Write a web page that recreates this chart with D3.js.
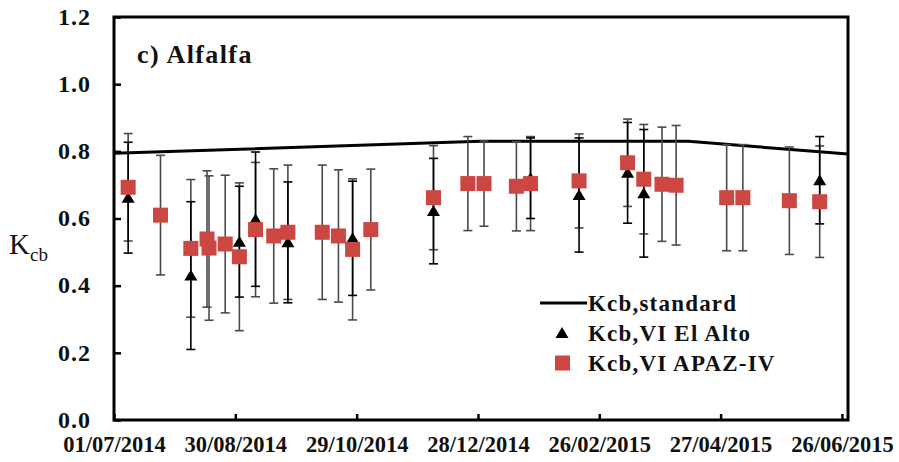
<!DOCTYPE html>
<html>
  <head>
    <meta charset="utf-8">
    <script src="https://d3js.org/d3.v7.min.js"></script>
    <title>Kcb Alfalfa</title>
    <style>
      html, body {
        margin: 0px;
        overflow: hidden;
        background-color: WHITE;
      }
      svg {
        display: block;
        background-color: WHITE;
      }
      .tick text, .legend-label, .title {
        font-family: 'Liberation Serif', 'Times New Roman', serif;
        font-weight: bold;
        fill: #111111;
      }
      .axis-label {
        font-family: 'Liberation Serif', 'Times New Roman', serif;
        fill: #111111;
      }
    </style>
  </head>
  <body>
    <div id="graph"></div>
    <script>

      // Kcb,standard line (date, value)
      const stdDates = ['01/07/2014', '29/12/2014', '11/04/2015', '29/06/2015'];
      const stdValues = [0.794, 0.83, 0.83, 0.792];

      // Kcb,VI El Alto (triangles)
      const altoDates = ['08/07/2014', '08/08/2014', '01/09/2014', '09/09/2014', '25/09/2014', '27/10/2014',
        '06/12/2014', '23/01/2015', '16/02/2015', '12/03/2015', '20/03/2015', '15/06/2015'];
      const altoValues = [0.662, 0.430, 0.531, 0.598, 0.529, 0.541, 0.622, 0.720, 0.670, 0.736, 0.675, 0.714];
      const altoSd = [0.165, 0.22, 0.165, 0.2, 0.18, 0.17, 0.157, 0.12, 0.17, 0.15, 0.19, 0.13];

      // Kcb,VI APAZ-IV (squares)
      const apazDates = ['08/07/2014', '24/07/2014', '08/08/2014', '16/08/2014', '17/08/2014', '25/08/2014',
        '01/09/2014', '09/09/2014', '18/09/2014', '25/09/2014', '12/10/2014', '20/10/2014', '27/10/2014',
        '05/11/2014', '06/12/2014', '23/12/2014', '31/12/2014', '16/01/2015', '23/01/2015', '16/02/2015',
        '12/03/2015', '20/03/2015', '29/03/2015', '05/04/2015', '30/04/2015', '08/05/2015', '31/05/2015',
        '15/06/2015'];
      const apazValues = [0.693, 0.610, 0.511, 0.539, 0.512, 0.524, 0.486, 0.567, 0.548, 0.559, 0.559, 0.548,
        0.508, 0.567, 0.662, 0.704, 0.704, 0.696, 0.704, 0.712, 0.766, 0.717, 0.702, 0.699, 0.662, 0.662,
        0.653, 0.650];
      const apazSd = [0.16, 0.178, 0.205, 0.203, 0.215, 0.205, 0.22, 0.2, 0.2, 0.2, 0.2, 0.197, 0.21, 0.18,
        0.155, 0.14, 0.127, 0.133, 0.14, 0.14, 0.13, 0.163, 0.17, 0.178, 0.158, 0.158, 0.16, 0.166];

      const xTickLabels = ['01/07/2014', '30/08/2014', '29/10/2014', '28/12/2014', '26/02/2015', '27/04/2015', '26/06/2015'];
      const yTicks = [0, 0.2, 0.4, 0.6, 0.8, 1.0, 1.2];
      const xStart = '01/07/2014';
      const xEnd = '29/06/2015';

      const seriesNames = ['Kcb,standard', 'Kcb,VI El Alto', 'Kcb,VI APAZ-IV'];
      const titleText = 'c) Alfalfa';

      const parseDate = d3.timeParse('%d/%m/%Y');
      const squareColor = '#cc4741';

      const margin = { left: 114, right: 51, top: 17, bottom: 42 };
      const width = 899;
      const height = 462;
      const innerWidth = width - margin.left - margin.right;
      const innerHeight = height - margin.top - margin.bottom;

      const svg = d3.select('#graph').append('svg')
        .attr('width', width)
        .attr('height', height);

      const g = svg.append('g')
        .attr('transform', `translate(${margin.left},${margin.top})`);

      const xScale = d3.scaleTime()
        .domain([parseDate(xStart), parseDate(xEnd)])
        .range([0, innerWidth]);

      const yScale = d3.scaleLinear()
        .domain([0, 1.2])
        .range([innerHeight, 0]);

      const xAxis = d3.axisBottom(xScale)
        .tickValues(xTickLabels.map(parseDate))
        .tickFormat(d3.timeFormat('%d/%m/%Y'))
        .tickSizeInner(-6)
        .tickSizeOuter(0)
        .tickPadding(16);

      const yAxis = d3.axisLeft(yScale)
        .tickValues(yTicks)
        .tickFormat(d3.format('.1f'))
        .tickSizeInner(-7)
        .tickSizeOuter(0)
        .tickPadding(23);

      const xAxisG = g.append('g')
        .attr('transform', `translate(0,${innerHeight})`)
        .call(xAxis);
      const yAxisG = g.append('g').call(yAxis);

      [xAxisG, yAxisG].forEach(a => {
        a.select('.domain').remove();
        a.selectAll('.tick line').attr('stroke', '#000').attr('stroke-width', 2.5);
      });
      xAxisG.selectAll('.tick text').style('font-size', '22.5px');
      yAxisG.selectAll('.tick text').style('font-size', '24px').attr('dy', '0.3em')
        .attr('letter-spacing', 1);

      // plot frame
      g.append('rect')
        .attr('x', 0)
        .attr('y', 0)
        .attr('width', innerWidth)
        .attr('height', innerHeight)
        .attr('fill', 'none')
        .attr('stroke', '#000')
        .attr('stroke-width', 3);

      // standard line
      const stdData = stdDates.map((d, i) => ({ date: parseDate(d), value: stdValues[i] }));
      const line = d3.line()
        .x(d => xScale(d.date))
        .y(d => yScale(d.value));
      g.append('path')
        .datum(stdData)
        .attr('d', line)
        .attr('fill', 'none')
        .attr('stroke', '#000')
        .attr('stroke-width', 3);

      const altoData = altoDates.map((d, i) => ({ date: parseDate(d), value: altoValues[i], sd: altoSd[i] }));
      const apazData = apazDates.map((d, i) => ({ date: parseDate(d), value: apazValues[i], sd: apazSd[i] }));

      // error bars
      function errorBars(data, color, cls) {
        const eb = g.selectAll('g.' + cls).data(data)
          .enter().append('g')
            .attr('class', cls)
            .attr('stroke', color)
            .attr('stroke-width', 1.6);
        eb.append('line')
          .attr('x1', d => xScale(d.date))
          .attr('x2', d => xScale(d.date))
          .attr('y1', d => yScale(d.value + d.sd))
          .attr('y2', d => yScale(d.value - d.sd));
        [1, -1].forEach(s => {
          eb.append('line')
            .attr('x1', d => xScale(d.date) - 4.5)
            .attr('x2', d => xScale(d.date) + 4.5)
            .attr('y1', d => yScale(d.value + s * d.sd))
            .attr('y2', d => yScale(d.value + s * d.sd));
        });
      }
      errorBars(apazData, '#4a4a4a', 'eb-apaz');
      errorBars(altoData, '#000000', 'eb-alto');

      const triangle = 'M0,-6L6.5,5L-6.5,5Z';

      g.selectAll('path.tri').data(altoData)
        .enter().append('path')
          .attr('class', 'tri')
          .attr('d', triangle)
          .attr('transform', d => `translate(${xScale(d.date)},${yScale(d.value)})`)
          .attr('fill', '#000');

      g.selectAll('rect.sq').data(apazData)
        .enter().append('rect')
          .attr('class', 'sq')
          .attr('x', d => xScale(d.date) - 7.5)
          .attr('y', d => yScale(d.value) - 7.5)
          .attr('width', 15)
          .attr('height', 15)
          .attr('fill', squareColor);

      // title
      svg.append('text')
        .attr('class', 'title')
        .attr('x', 137)
        .attr('y', 63)
        .style('font-size', '26px')
        .attr('letter-spacing', 1.4)
        .text(titleText);

      // y axis label K_cb
      const yLab = svg.append('text')
        .attr('class', 'axis-label')
        .attr('x', 9)
        .attr('y', 254)
        .style('font-size', '29px');
      yLab.append('tspan').text('K');
      yLab.append('tspan')
        .attr('dy', 7)
        .style('font-size', '19px')
        .text('cb');

      // legend
      const legend = svg.append('g')
        .attr('transform', 'translate(540,0)');
      const rows = [303, 333, 363];

      legend.append('line')
        .attr('x1', 0).attr('x2', 47)
        .attr('y1', rows[0]).attr('y2', rows[0])
        .attr('stroke', '#000')
        .attr('stroke-width', 3);
      legend.append('path')
        .attr('d', triangle)
        .attr('transform', `translate(22,${rows[1]})`)
        .attr('fill', '#000');
      legend.append('rect')
        .attr('x', 15).attr('y', rows[2] - 7.5)
        .attr('width', 15).attr('height', 15)
        .attr('fill', squareColor);

      legend.selectAll('text.legend-label').data(seriesNames)
        .enter().append('text')
          .attr('class', 'legend-label')
          .attr('x', 48)
          .attr('y', (d, i) => rows[i] + 8)
          .style('font-size', '23px')
          .attr('letter-spacing', 1.2)
          .text(d => d);

    </script>
  </body>
</html>
